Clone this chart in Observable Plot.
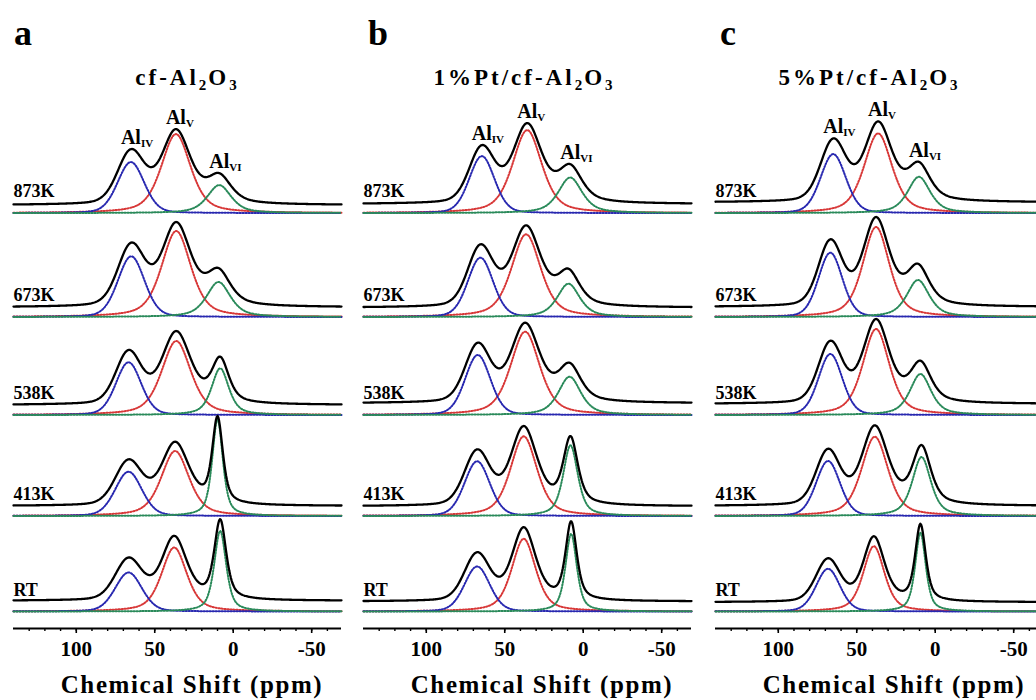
<!DOCTYPE html>
<html><head><meta charset="utf-8">
<script src="https://cdn.jsdelivr.net/npm/d3@7"></script>
<script src="https://cdn.jsdelivr.net/npm/@observablehq/plot@0.6"></script>
<style>
html,body{margin:0;padding:0;background:#fff;width:1036px;height:700px;overflow:hidden;}
#root{position:relative;width:1036px;height:700px;overflow:hidden;font-family:"Liberation Serif","Times New Roman",serif;font-weight:bold;color:#000;}
.panel{position:absolute;top:0;width:350px;height:700px;}
.letter{position:absolute;top:15px;font-size:36px;line-height:1;}
.title{position:absolute;top:66px;font-size:23px;line-height:1;letter-spacing:3px;white-space:nowrap;transform:translateX(-50%);}
.title sub{font-size:15px;vertical-align:-5px;line-height:0;letter-spacing:2px;}
.plot{position:absolute;top:95px;left:0;}
.xlabel{position:absolute;top:672px;font-size:25px;line-height:1;letter-spacing:1.6px;white-space:nowrap;transform:translateX(-50%);}
g[aria-label="sample-label"] text{letter-spacing:0.5px;}
</style>
</head><body><div id="root"></div>
<script>
// ---------- data ----------
const panelLetters = ["a", "b", "c"];
const panelTitles = ["cf-Al<sub>2</sub>O<sub>3</sub>", "1%Pt/cf-Al<sub>2</sub>O<sub>3</sub>", "5%Pt/cf-Al<sub>2</sub>O<sub>3</sub>"];
const samples = ["RT", "413K", "538K", "673K", "873K"];
const stackOffsets = [17, 112.5, 213.5, 311.5, 415.4];
const species = ["IV", "V", "VI"];
const speciesColors = ["#2828b0", "#d83838", "#2a8a5a"];
const lorentzFraction = [0.2, 0.5, 0.6];
const majorTicks = [100, 50, 0, -50];
const minorTicks = [130, 120, 110, 100, 90, 80, 70, 60, 50, 40, 30, 20, 10, 0, -10, -20, -30, -40, -50, -60];
const xLabel = "Chemical Shift (ppm)";

// peak centres (ppm) per sample [Al_IV, Al_V, Al_VI], samples RT..873K
const centersA = [[66.7, 37.6, 8.3], [66.7, 37.0, 10.0], [66.7, 36.3, 8.3], [65.0, 36.3, 9.4], [65.2, 36.5, 8.9]];
const centersB = [[67.6, 37.9, 7.7], [67.6, 37.9, 8.1], [67.2, 37.0, 8.7], [65.5, 36.4, 9.4], [64.6, 35.7, 8.3]];
const centersC = [[68.3, 39.1, 9.4], [68.3, 38.5, 8.7], [66.8, 37.7, 9.4], [66.8, 37.7, 11.0], [65.0, 36.4, 10.4]];
// fitted component heights (a.u.)
const heightsA = [[39, 64, 80.7], [44.3, 65, 96.7], [52.7, 74, 46.7], [60.7, 86, 35], [51, 79, 28]];
const heightsB = [[45, 72.7, 77.7], [54.7, 79.7, 70.7], [60, 83.3, 38.3], [59.3, 82.7, 33.3], [57, 83, 35.6]];
const heightsC = [[42.7, 65.3, 78.7], [55, 79.3, 59], [61, 86, 41], [64.3, 90, 37], [59, 79.7, 36.3]];
// component widths, FWHM (ppm)
const widthsA = [[20, 19, 9], [20, 21, 8], [19, 22, 13], [20, 22, 18], [20, 22, 18]];
const widthsB = [[19, 18, 8.5], [19, 20, 11], [19, 22, 17], [19, 22, 17], [19, 22, 18]];
const widthsC = [[18, 16, 8], [18, 20, 14], [18, 20, 16], [18, 20, 17], [19, 21, 17]];
// experimental (black) spectrum heights at the three peaks (a.u.)
const totalsA = [[54, 75.7, 92.4], [56.7, 74.3, 100], [65, 84, 58.4], [74.4, 95, 49], [64, 84, 40]];
const totalsB = [[59.3, 84.3, 90.3], [66.7, 90, 80], [72.3, 92.3, 52.3], [72.7, 91.7, 48.3], [68, 90, 49]];
const totalsC = [[53.3, 75.3, 87.7], [67.3, 90.7, 71], [74.3, 96, 54.3], [77.7, 100, 53.3], [74.7, 91.7, 51.3]];
// experimental spectrum baseline lift (a.u.)
const liftA = [10.7, 10, 10, 9.7, 8];
const liftB = [10, 9.7, 11.7, 9.3, 9];
const liftC = [9.3, 10, 11, 10, 10.7];

const panelData = [
  {centers: centersA, heights: heightsA, widths: widthsA, totals: totalsA, lift: liftA},
  {centers: centersB, heights: heightsB, widths: widthsB, totals: totalsB, lift: liftB},
  {centers: centersC, heights: heightsC, widths: widthsC, totals: totalsC, lift: liftC}
];

// ---------- layout ----------
const layout = {
  panelLeft: [0, 350, 702],
  letterX: [14, 18, 18],
  titleX: [187, 174, 167],
  xLabelX: 192
};

// ---------- helpers ----------
function pv(x, c, w, eta) {
  const t = (x - c) / (w / 2);
  return eta / (1 + t * t) + (1 - eta) * Math.exp(-Math.LN2 * t * t);
}
function solve3(M, b) {
  const A = M.map((r, i) => [...r, b[i]]);
  for (let i = 0; i < 3; i++) {
    let p = i;
    for (let r = i + 1; r < 3; r++) if (Math.abs(A[r][i]) > Math.abs(A[p][i])) p = r;
    [A[i], A[p]] = [A[p], A[i]];
    for (let r = 0; r < 3; r++) {
      if (r === i) continue;
      const f = A[r][i] / A[i][i];
      for (let c = i; c < 4; c++) A[r][c] -= f * A[i][c];
    }
  }
  return A.map((r, i) => r[3] / r[i]);
}

const grid = d3.range(140, -69.01, -0.5);
const root = document.getElementById("root");

panelData.forEach((P, pi) => {
  const comp = [];
  const total = [];
  const peakLabels = [];
  const sampleLabels = [];
  samples.forEach((s, k) => {
    const c = P.centers[k], h = P.heights[k], w = P.widths[k];
    const M = [0, 1, 2].map(j => [0, 1, 2].map(i => pv(c[j], c[i], w[i], lorentzFraction[i])));
    const amps = solve3(M, [0, 1, 2].map(j => P.totals[k][j] - P.lift[k]));
    const totalAt = x => P.lift[k] + amps.reduce((acc, a, i) => acc + a * pv(x, c[i], w[i], lorentzFraction[i]), 0);
    for (const x of grid) {
      for (let i = 0; i < 3; i++) {
        comp.push({sample: s, comp: i, x, y: stackOffsets[k] + h[i] * pv(x, c[i], w[i], lorentzFraction[i])});
      }
      total.push({sample: s, x, y: stackOffsets[k] + totalAt(x)});
    }
    sampleLabels.push({name: s, y: stackOffsets[k]});
    if (s === "873K") {
      for (let i = 0; i < 3; i++) peakLabels.push({sp: species[i], x: c[i], y: stackOffsets[k] + totalAt(c[i])});
    }
  });

  const drawOrder = [1, 0, 2];
  const plot = Plot.plot({
    width: 350,
    height: 575,
    marginLeft: 13,
    marginRight: 9,
    marginTop: 0,
    marginBottom: 42,
    style: {fontFamily: "'Liberation Serif', 'Times New Roman', serif", fontWeight: "bold", fontSize: "21px", overflow: "visible", background: "transparent"},
    x: {domain: [140, -69]},
    y: {domain: [0, 533], axis: null},
    marks: [
      ...drawOrder.map(i => Plot.line(comp.filter(d => d.comp === i), {
        x: "x", y: "y", z: "sample", stroke: speciesColors[i], strokeWidth: 2, strokeDasharray: "1.3,1.7"
      })),
      Plot.line(total, {x: "x", y: "y", z: "sample", stroke: "black", strokeWidth: 2.3}),
      Plot.ruleY([0], {strokeWidth: 2}),
      Plot.axisX(minorTicks, {tickSize: 3, strokeWidth: 1.4, tickFormat: () => "", label: null}),
      Plot.axisX(majorTicks, {tickSize: 5, strokeWidth: 1.6, tickPadding: 8, tickFormat: d => String(d), fontSize: 21, label: null}),
      Plot.text(sampleLabels, {y: "y", text: "name", frameAnchor: "left", textAnchor: "start", lineAnchor: "bottom", dy: -16, fontSize: 18, fontWeight: "bold", ariaLabel: "sample-label"}),
      Plot.text(peakLabels, {x: "x", y: "y", text: () => "Al", textAnchor: "middle", lineAnchor: "bottom", dy: -5, fontSize: 20, fontWeight: "bold"}),
      Plot.text(peakLabels, {x: "x", y: "y", text: "sp", textAnchor: "start", lineAnchor: "bottom", dx: 10, dy: -2, fontSize: 11, fontWeight: "bold"})
    ]
  });

  const panel = document.createElement("div");
  panel.className = "panel";
  panel.style.left = layout.panelLeft[pi] + "px";
  const letter = document.createElement("div");
  letter.className = "letter";
  letter.style.left = layout.letterX[pi] + "px";
  letter.textContent = panelLetters[pi];
  const title = document.createElement("div");
  title.className = "title";
  title.style.left = layout.titleX[pi] + "px";
  title.innerHTML = panelTitles[pi];
  const holder = document.createElement("div");
  holder.className = "plot";
  holder.appendChild(plot);
  const xl = document.createElement("div");
  xl.className = "xlabel";
  xl.style.left = layout.xLabelX + "px";
  xl.textContent = xLabel;
  panel.append(letter, title, holder, xl);
  root.appendChild(panel);
});
</script>
</body></html>
